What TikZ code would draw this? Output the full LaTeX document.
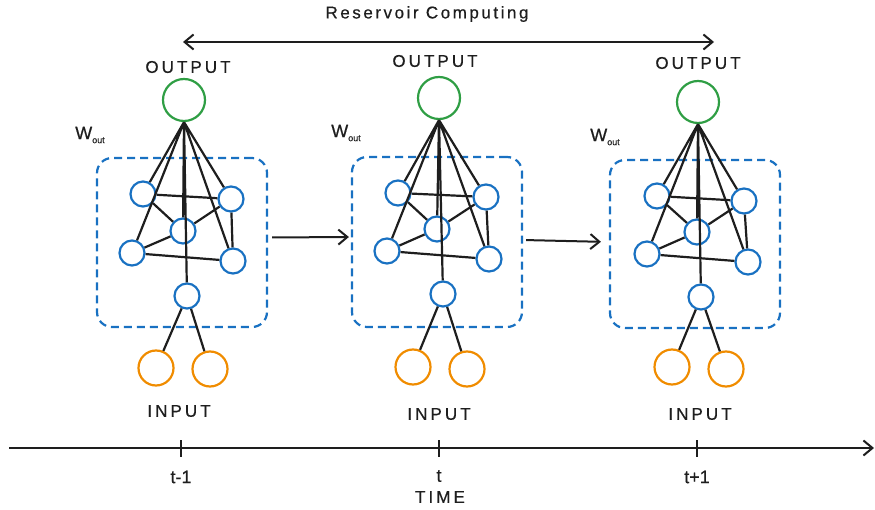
\documentclass[tikz,border=0pt]{standalone}
\usepackage{fontspec}
\setmainfont{Liberation Sans}
\newfontfamily\titlefont[LetterSpace=15, FakeBold=0.6]{Liberation Sans}
\newfontfamily\capsfont[LetterSpace=18, FakeBold=0.6]{Liberation Sans}
\newfontfamily\plainfont[FakeBold=0.6]{Liberation Sans}
\usetikzlibrary{arrows.meta}

\definecolor{outgreen}{HTML}{2F9E44}
\definecolor{resblue}{HTML}{1971C2}
\definecolor{inorange}{HTML}{F08C00}
\definecolor{inkblack}{HTML}{1E1E1E}

\tikzset{
  readout/.style={circle, draw=outgreen, line width=2.2pt, minimum size=42pt, inner sep=0pt},
  unit/.style={circle, draw=resblue, line width=2.2pt, minimum size=25pt, inner sep=0pt},
  feed/.style={circle, draw=inorange, line width=2.2pt, minimum size=35pt, inner sep=0pt},
  pool/.style={draw=resblue, line width=2.2pt, dash pattern=on 8pt off 5pt, rounded corners=15pt, inner sep=0pt},
  wire/.style={draw=inkblack, line width=2.2pt},
  barb/.style={-{Straight Barb[length=9pt,width=15pt]}, line width=2pt, draw=inkblack},
  caption/.style={font=\capsfont\fontsize{17}{20}\selectfont, text=inkblack, inner sep=0pt},
  tick/.style={font=\plainfont\fontsize{18}{20}\selectfont, text=inkblack, inner sep=0pt},
  weight/.style={font=\plainfont\fontsize{18}{20}\selectfont, text=inkblack, inner sep=0pt}
}

\begin{document}
\begin{tikzpicture}[x=1pt, y=-1pt]
  \useasboundingbox (0,0) rectangle (875,510);

  \node[caption, font=\titlefont\fontsize{17}{20}\selectfont] (title) at (427,14) {Reservoir Computing};
  \coordinate (spanl) at (183,42);
  \coordinate (spanr) at (714,42);
  \draw[barb, {Straight Barb[length=9pt,width=15pt]}-{Straight Barb[length=9pt,width=15pt]}] (spanl) -- (spanr);

  \node[pool, minimum width=170pt, minimum height=169pt] (pool1) at (182,242.5) {};
  \node[readout] (out1) at (184,100) {};
  \node[unit] (a1) at (143,194) {};
  \node[unit] (b1) at (231,199) {};
  \node[unit] (c1) at (183,231) {};
  \node[unit] (d1) at (132,253) {};
  \node[unit] (e1) at (233,261) {};
  \node[unit] (f1) at (187,296) {};
  \node[feed] (p1) at (156,368) {};
  \node[feed] (q1) at (210,369) {};
  \draw[wire] (out1.south) -- (a1) (out1.south) -- (b1) (out1.south) -- (c1)
              (out1.south) -- (d1) (out1.south) -- (e1) (out1.south) -- (f1);
  \draw[wire] (a1) -- (b1) (a1) -- (c1) (c1) -- (b1) (c1) -- (d1) (d1) -- (e1) (b1) -- (e1);
  \draw[wire] (f1) -- (p1) (f1) -- (q1);
  \node[caption] (olab1) at (188,67) {OUTPUT};
  \node[caption] (ilab1) at (179,411) {INPUT};
  \node[weight] (w1) at (90,135) {W\raisebox{-4pt}{\fontsize{9}{10}\selectfont out}};

  \node[pool, minimum width=170pt, minimum height=170pt] (pool2) at (437,242) {};
  \node[readout] (out2) at (439,98) {};
  \node[unit] (a2) at (398,193) {};
  \node[unit] (b2) at (486,197) {};
  \node[unit] (c2) at (437,229) {};
  \node[unit] (d2) at (387,251) {};
  \node[unit] (e2) at (489,259) {};
  \node[unit] (f2) at (443,294) {};
  \node[feed] (p2) at (413,367) {};
  \node[feed] (q2) at (467,369) {};
  \draw[wire] (out2.south) -- (a2) (out2.south) -- (b2) (out2.south) -- (c2)
              (out2.south) -- (d2) (out2.south) -- (e2) (out2.south) -- (f2);
  \draw[wire] (a2) -- (b2) (a2) -- (c2) (c2) -- (b2) (c2) -- (d2) (d2) -- (e2) (b2) -- (e2);
  \draw[wire] (f2) -- (p2) (f2) -- (q2);
  \node[caption] (olab2) at (435,61) {OUTPUT};
  \node[caption] (ilab2) at (439,414) {INPUT};
  \node[weight] (w2) at (346,133) {W\raisebox{-4pt}{\fontsize{9}{10}\selectfont out}};

  \node[pool, minimum width=170pt, minimum height=168pt] (pool3) at (695,244) {};
  \node[readout] (out3) at (698,102) {};
  \node[unit] (a3) at (657,196) {};
  \node[unit] (b3) at (744,201) {};
  \node[unit] (c3) at (697,232) {};
  \node[unit] (d3) at (647,254) {};
  \node[unit] (e3) at (748,262) {};
  \node[unit] (f3) at (701,297) {};
  \node[feed] (p3) at (672,367) {};
  \node[feed] (q3) at (726,369) {};
  \draw[wire] (out3.south) -- (a3) (out3.south) -- (b3) (out3.south) -- (c3)
              (out3.south) -- (d3) (out3.south) -- (e3) (out3.south) -- (f3);
  \draw[wire] (a3) -- (b3) (a3) -- (c3) (c3) -- (b3) (c3) -- (d3) (d3) -- (e3) (b3) -- (e3);
  \draw[wire] (f3) -- (p3) (f3) -- (q3);
  \node[caption] (olab3) at (698,63) {OUTPUT};
  \node[caption] (ilab3) at (700,414) {INPUT};
  \node[weight] (w3) at (605,137) {W\raisebox{-4pt}{\fontsize{9}{10}\selectfont out}};

  \draw[barb, shorten <=4pt, shorten >=2pt] ([yshift=5pt]pool1.east) -- ([yshift=5pt]pool2.west);
  \draw[barb, shorten <=3pt, shorten >=8pt] ([yshift=2pt]pool2.east) -- ([yshift=2pt]pool3.west);

  \coordinate (tstart) at (9,448);
  \coordinate (tend) at (874,448);
  \draw[barb] (tstart) -- (tend);
  \draw[wire, line width=2pt] (181,440) -- (181,457) (439,440) -- (439,457) (697,440) -- (697,457);
  \node[tick] (t1) at (181,477) {t-1};
  \node[tick] (t2) at (439,476) {t};
  \node[tick] (t3) at (697,477) {t+1};
  \node[caption] (time) at (440,497) {TIME};
\end{tikzpicture}
\end{document}
